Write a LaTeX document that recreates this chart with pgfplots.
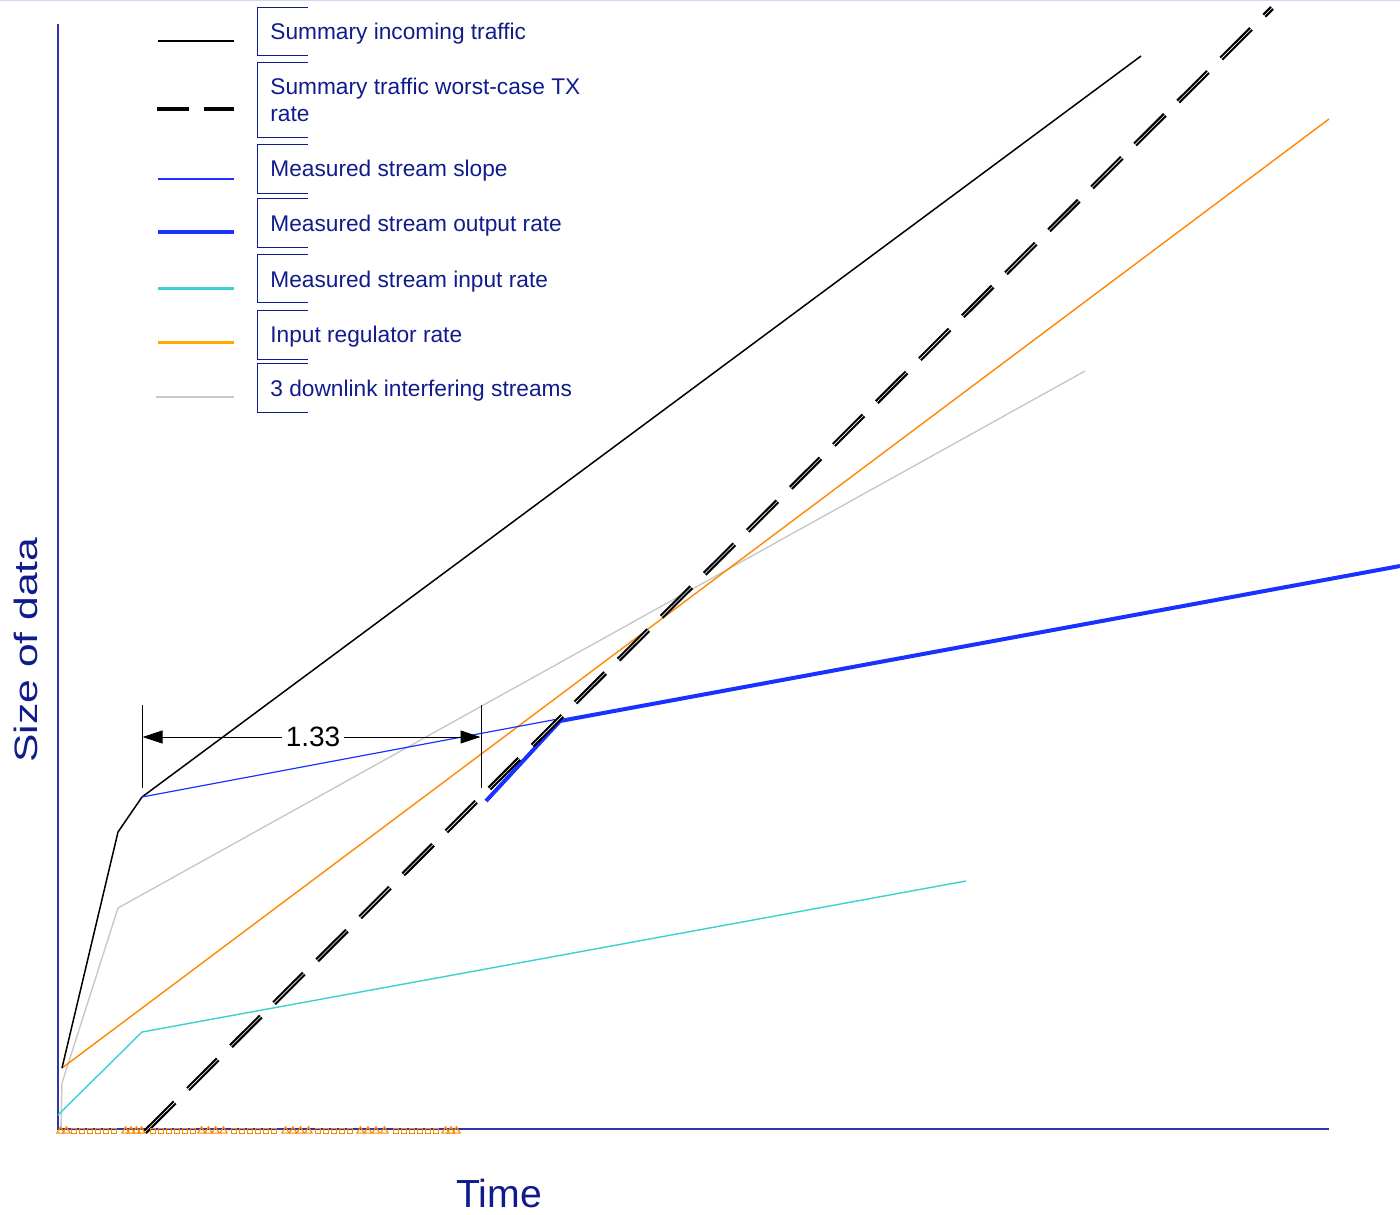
\documentclass[border=0pt]{standalone}
\usepackage{fontspec}
\setmainfont{Liberation Sans}
\usepackage{graphicx}
\usepackage{pgfplots}
\pgfplotsset{compat=1.18}
\usetikzlibrary{arrows.meta}

\definecolor{navy}{RGB}{16,28,140}
\definecolor{axisblue}{RGB}{45,55,170}
\definecolor{lavender}{RGB}{215,215,245}
\definecolor{lineblue}{RGB}{25,50,255}
\definecolor{cyanline}{RGB}{60,208,208}
\definecolor{orangeline}{RGB}{255,136,0}
\definecolor{orangelegend}{RGB}{255,170,0}
\definecolor{grayline}{RGB}{200,200,200}

\begin{document}
\begin{tikzpicture}
\begin{axis}[
    scale only axis,
    width=700pt, height=607pt,
    xmin=0, xmax=1400, ymin=0, ymax=1214,
    y dir=reverse,
    hide axis,
    clip=false,
  ]
  % frame lines
  \draw[lavender, line width=1pt] (axis cs:0,0.5) -- (axis cs:1400,0.5);
  \draw[axisblue, line width=0.8pt] (axis cs:58,24) -- (axis cs:58,1129) -- (axis cs:1329,1129);

  % orange markers along the time axis
  \addplot[only marks, orangeline, mark=square, mark size=1.3pt, mark options={line width=0.6pt}] coordinates {
    (74,1131) (82,1131) (90,1131) (98,1131) (106,1131) (114,1131)
    (153,1131) (161,1131) (169,1131) (177,1131) (185,1131) (193,1131)
    (234,1131) (242,1131) (250,1131) (258,1131) (266,1131) (274,1131)
    (318,1131) (326,1131) (334,1131) (342,1131) (350,1131)
    (396,1131) (404,1131) (412,1131) (420,1131) (428,1131) (436,1131)
  };
  \addplot[only marks, orangeline, mark=triangle, mark size=2.1pt, mark options={line width=0.6pt}] coordinates {
    (60.5,1131) (66.5,1131)
    (125.5,1131) (131,1131) (136.5,1131) (141.5,1131)
    (201.5,1131) (208.5,1131) (215.5,1131) (223.5,1131)
    (285.5,1131) (293,1131) (300.5,1131) (308.5,1131)
    (360.5,1131) (368,1131) (376,1131) (384.5,1131)
    (445.5,1131) (451,1131) (456.5,1131)
  };

  % series
  \addplot[grayline, line width=0.7pt] coordinates {(61,1128) (62,1083) (118,908) (1085,371)};
  \addplot[cyanline, line width=0.7pt] coordinates {(58,1115) (142,1032) (966,881)};
  \addplot[orangeline, line width=0.7pt] coordinates {(62,1068) (1329,119)};
  \addplot[black, line width=0.75pt] coordinates {(62,1068) (118,832) (142,797) (1141,56)};
  \addplot[lineblue, line width=0.6pt] coordinates {(142,797) (558,719)};
  \addplot[lineblue, line width=2pt] coordinates {(486,801) (560,721) (1400,566)};
  \addplot[black, line width=1.1pt, double=white, double distance=0.3pt,
           dash pattern=on 21pt off 9.4pt] coordinates {(145,1132) (1272,8)};

  % dimension annotation
  \draw[black, line width=0.5pt] (axis cs:142,705) -- (axis cs:142,788);
  \draw[black, line width=0.5pt] (axis cs:481,705) -- (axis cs:481,788);
  \draw[black, line width=0.5pt, {Triangle[length=10pt,width=6.5pt]}-{Triangle[length=10pt,width=6.5pt]}]
    (axis cs:142.5,737) -- (axis cs:480.5,737);
  \node[fill=white, inner sep=2pt, font=\fontsize{14}{16}\selectfont] at (axis cs:313,737) {1.33};

  % axis titles
  \node[navy, anchor=base west, inner sep=0pt, font=\fontsize{19.6}{22}\selectfont] at (axis cs:456,1207) {Time};
  \node[navy, rotate=90, anchor=base west, inner sep=0pt, font=\fontsize{21.3}{24}\selectfont]
    at (axis cs:37,763) {\scalebox{1}[0.76]{Size of data}};

  % legend samples
  \draw[black, line width=0.85pt] (axis cs:158,41) -- (axis cs:234,41);
  \draw[black, line width=1.6pt, dash pattern=on 16pt off 7.5pt] (axis cs:157,109) -- (axis cs:234,109);
  \draw[lineblue, line width=0.6pt] (axis cs:158,179) -- (axis cs:234,179);
  \draw[lineblue, line width=1.8pt] (axis cs:158,232) -- (axis cs:234,232);
  \draw[cyanline, line width=1.5pt] (axis cs:158,288) -- (axis cs:234,288);
  \draw[orangelegend, line width=1.5pt] (axis cs:158,342) -- (axis cs:234,342);
  \draw[grayline, line width=1pt] (axis cs:156,397) -- (axis cs:234,397);

  % legend brackets
  \draw[navy, line width=0.5pt] (axis cs:308,7.5) -- (axis cs:257.5,7.5) -- (axis cs:257.5,56) -- (axis cs:308,56);
  \draw[navy, line width=0.5pt] (axis cs:308,62.7) -- (axis cs:257.5,62.7) -- (axis cs:257.5,137.7) -- (axis cs:308,137.7);
  \draw[navy, line width=0.5pt] (axis cs:308,145) -- (axis cs:257.5,145) -- (axis cs:257.5,193.3) -- (axis cs:308,193.3);
  \draw[navy, line width=0.5pt] (axis cs:308,199) -- (axis cs:257.5,199) -- (axis cs:257.5,247.3) -- (axis cs:308,247.3);
  \draw[navy, line width=0.5pt] (axis cs:308,254) -- (axis cs:257.5,254) -- (axis cs:257.5,302.3) -- (axis cs:308,302.3);
  \draw[navy, line width=0.5pt] (axis cs:308,310.7) -- (axis cs:257.5,310.7) -- (axis cs:257.5,359.3) -- (axis cs:308,359.3);
  \draw[navy, line width=0.5pt] (axis cs:308,363.3) -- (axis cs:257.5,363.3) -- (axis cs:257.5,412.3) -- (axis cs:308,412.3);

  % legend texts
  \begin{scope}[every node/.style={navy, anchor=base west, inner sep=0pt, font=\fontsize{11.35}{13}\selectfont}]
    \node at (axis cs:270,40) {Summary incoming traffic};
    \node at (axis cs:270,95) {Summary traffic worst-case TX};
    \node at (axis cs:270,121.7) {rate};
    \node at (axis cs:270,176.7) {Measured stream slope};
    \node at (axis cs:270,231.7) {Measured stream output rate};
    \node at (axis cs:270,287.3) {Measured stream input rate};
    \node at (axis cs:270,342.7) {Input regulator rate};
    \node at (axis cs:270,396) {3 downlink interfering streams};
  \end{scope}
\end{axis}
\pgfresetboundingbox
\path (current axis.south west) rectangle (current axis.north east);
\end{tikzpicture}
\end{document}
